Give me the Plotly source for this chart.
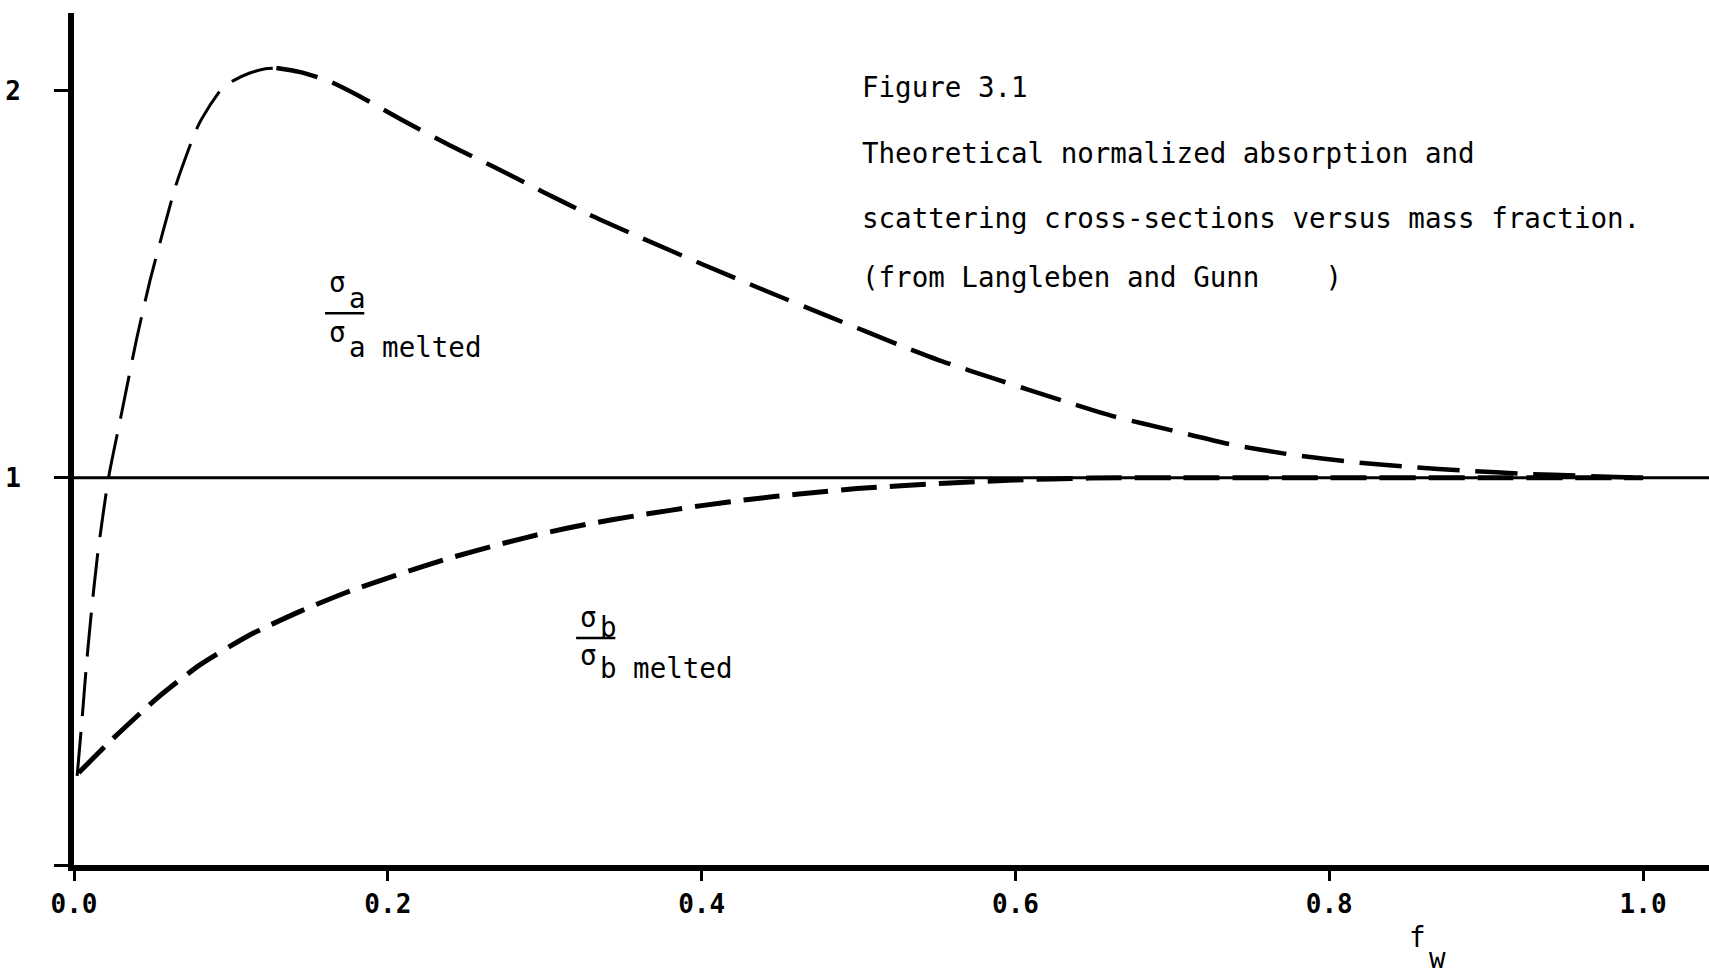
import numpy as np
import plotly.graph_objects as go

# Mass fraction f_w and normalized cross-sections
A_F = [0.002, 0.005, 0.008, 0.011, 0.015, 0.022, 0.030, 0.040, 0.0485, 0.057,
       0.065, 0.0765, 0.081, 0.094, 0.101, 0.112, 0.122, 0.129, 0.1435, 0.162,
       0.182, 0.2085, 0.24, 0.269, 0.298, 0.328, 0.36, 0.40, 0.44, 0.48,
       0.529, 0.555, 0.588, 0.629, 0.662, 0.699, 0.736, 0.777, 0.814, 0.851,
       0.888, 0.925, 0.96, 1.0]
A_Y = [0.23, 0.37, 0.52, 0.65, 0.80, 1.0, 1.16, 1.36, 1.51, 1.64,
       1.756, 1.885, 1.924, 2.004, 2.024, 2.045, 2.056, 2.058, 2.048, 2.025,
       1.985, 1.925, 1.857, 1.800, 1.740, 1.680, 1.622, 1.552, 1.484, 1.418,
       1.338, 1.298, 1.254, 1.20, 1.159, 1.123, 1.087, 1.059, 1.041, 1.028,
       1.018, 1.010, 1.005, 1.0]

B_F = [0.003, 0.024, 0.053, 0.080, 0.112, 0.143, 0.173, 0.205, 0.239, 0.273,
       0.301, 0.327, 0.36, 0.40, 0.43, 0.462, 0.499, 0.555, 0.599, 0.647,
       0.70, 0.80, 0.90, 1.0]
B_Y = [0.238, 0.323, 0.431, 0.516, 0.594, 0.653, 0.703, 0.748, 0.792, 0.830,
       0.858, 0.880, 0.903, 0.928, 0.944, 0.958, 0.972, 0.986, 0.994, 0.999,
       1.0, 1.0, 1.0, 1.0]

X_TICKS = [0.0, 0.2, 0.4, 0.6, 0.8, 1.0]
X_TICKTEXT = ["0.0", "0.2", "0.4", "0.6", "0.8", "1.0"]
Y_TICKS = [0, 1, 2]
Y_TICKTEXT = ["", "1", "2"]

CAPTION = [
    "Figure 3.1",
    "Theoretical normalized absorption and",
    "scattering cross-sections versus mass fraction.",
    "(from Langleben and Gunn\u00a0\u00a0\u00a0\u00a0)",
]

FONT = "DejaVu Sans Mono"
INK = "black"
TEXT_SIZE = 27.5

fig = go.Figure()

# sigma_a curve: thinner on the rising branch, heavier past the maximum
k = int(np.argmax(A_Y))
fig.add_trace(go.Scatter(
    x=A_F[:k + 1], y=A_Y[:k + 1], mode="lines",
    line=dict(color=INK, width=3, dash="44px,16px", shape="spline", smoothing=0.6),
    hoverinfo="skip", showlegend=False))
fig.add_trace(go.Scatter(
    x=A_F[k:], y=A_Y[k:], mode="lines",
    line=dict(color=INK, width=4.5, dash="42px,16px", shape="spline", smoothing=0.6),
    hoverinfo="skip", showlegend=False))

# sigma_b curve
fig.add_trace(go.Scatter(
    x=B_F, y=B_Y, mode="lines",
    line=dict(color=INK, width=5, dash="36px,13px", shape="spline", smoothing=0.6),
    hoverinfo="skip", showlegend=False))

# reference level of the melted state
fig.add_hline(y=1, line=dict(color=INK, width=3), layer="below")

annotations = []
cap_y = [2.009, 1.838, 1.671, 1.518]
for txt, yy in zip(CAPTION, cap_y):
    annotations.append(dict(x=0.501, y=yy, xref="x", yref="y", text=txt,
                            xanchor="left", yanchor="middle", showarrow=False,
                            font=dict(family=FONT, size=TEXT_SIZE, color=INK)))


def fraction(x0, sub, y_num, y_sub, y_bar, y_den, y_dsub, bar_end):
    f = dict(family=FONT, size=TEXT_SIZE, color=INK)
    items = [
        dict(x=x0, y=y_num, text="σ"),
        dict(x=x0 + 0.013, y=y_sub, text=sub),
        dict(x=x0, y=y_den, text="σ"),
        dict(x=x0 + 0.013, y=y_dsub, text=sub + "\u00a0melted"),
    ]
    for it in items:
        annotations.append(dict(xref="x", yref="y", xanchor="left", yanchor="middle",
                                showarrow=False, font=f, **it))
    fig.add_shape(type="line", xref="x", yref="y", x0=x0 - 0.001, x1=bar_end,
                  y0=y_bar, y1=y_bar, line=dict(color=INK, width=2.5))


fraction(0.161, "a", 1.505, 1.464, 1.425, 1.376, 1.337, 0.185)
fraction(0.321, "b", 0.640, 0.615, 0.586, 0.542, 0.509, 0.345)

# axis title f_w
annotations.append(dict(x=0.856, y=-0.0845, xref="x", yref="paper", text="f",
                        xanchor="center", yanchor="middle", showarrow=False,
                        font=dict(family=FONT, size=TEXT_SIZE, color=INK)))
annotations.append(dict(x=0.869, y=-0.109, xref="x", yref="paper", text="w",
                        xanchor="center", yanchor="middle", showarrow=False,
                        font=dict(family=FONT, size=TEXT_SIZE, color=INK)))

tick_font = dict(family=FONT, size=26, color=INK, weight="bold")

fig.update_layout(
    width=1709, height=973,
    margin=dict(l=74, r=0, t=13, b=108),
    paper_bgcolor="white", plot_bgcolor="white",
    annotations=annotations,
    xaxis=dict(range=[0, 1.042], tickvals=X_TICKS, ticktext=X_TICKTEXT,
               ticks="outside", ticklen=10, tickwidth=3, tickcolor=INK,
               showline=True, linewidth=6, linecolor=INK,
               showgrid=False, zeroline=False, ticklabelstandoff=1,
               tickfont=tick_font),
    yaxis=dict(range=[0, 2.2], tickvals=Y_TICKS, ticktext=Y_TICKTEXT,
               ticks="outside", ticklen=14, tickwidth=3, tickcolor=INK,
               showline=True, linewidth=6, linecolor=INK,
               showgrid=False, zeroline=False, ticklabelstandoff=28,
               tickfont=tick_font),
)

fig.write_html("out.html")
